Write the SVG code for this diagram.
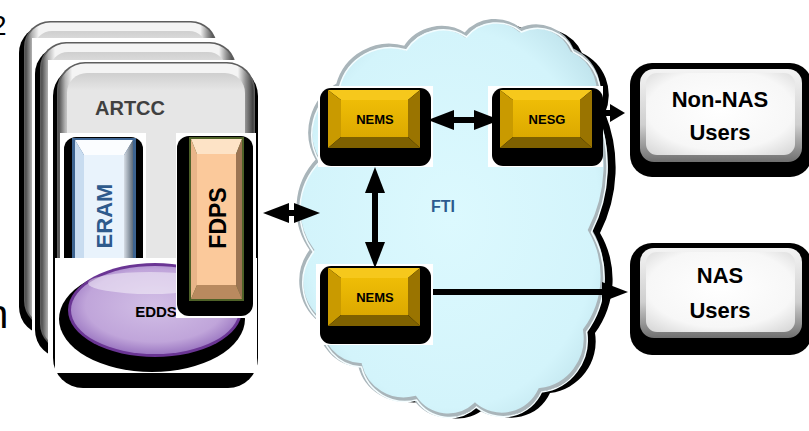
<svg xmlns="http://www.w3.org/2000/svg" width="809" height="431" viewBox="0 0 809 431">
<style>
.shd{fill:#000}
.rim{fill:#5e5e5e}
.bev{fill:url(#gCardH)}
.inner{fill:url(#gInner)}
.bbox{fill:#fff}
.lbl{font-family:"Liberation Sans",Arial,sans-serif;font-weight:bold}
.plain{font-family:"Liberation Sans",Arial,sans-serif;font-weight:normal;fill:#000}
.conn{stroke:#000;stroke-width:6;fill:none}
</style>
<defs>
<linearGradient id="gCardH" x1="0" x2="1" y1="0" y2="0">
<stop offset="0" stop-color="#4a4a4a"/>
<stop offset="0.035" stop-color="#b5b5b5"/>
<stop offset="0.07" stop-color="#f4f4f4"/>
<stop offset="0.92" stop-color="#f4f4f4"/>
<stop offset="0.96" stop-color="#8f8f8f"/>
<stop offset="1" stop-color="#3a3a3a"/>
</linearGradient>
<linearGradient id="gInner" x1="0" x2="0" y1="0" y2="1">
<stop offset="0" stop-color="#cfcfcf"/>
<stop offset="0.06" stop-color="#e6e6e6"/>
<stop offset="1" stop-color="#e6e6e6"/>
</linearGradient>
<linearGradient id="gEramR" x1="0" x2="1" y1="0" y2="0">
<stop offset="0" stop-color="#d6dde5"/>
<stop offset="1" stop-color="#5d6b7a"/>
</linearGradient>
<radialGradient id="gEdds" cx="0.5" cy="0.45" r="0.55">
<stop offset="0" stop-color="#d2bfe6"/>
<stop offset="0.75" stop-color="#c0a5da"/>
<stop offset="1" stop-color="#9c78c2"/>
</radialGradient>
<radialGradient id="gCloud" cx="0.5" cy="0.5" r="0.6">
<stop offset="0" stop-color="#dcf9fe"/>
<stop offset="0.8" stop-color="#d3f4fb"/>
<stop offset="1" stop-color="#bfe3ec"/>
</radialGradient>
<linearGradient id="gGoldFace" x1="0" x2="0" y1="0" y2="1">
<stop offset="0" stop-color="#efbd06"/>
<stop offset="1" stop-color="#dca900"/>
</linearGradient>
<linearGradient id="gUserBev" x1="0" x2="0" y1="0" y2="1">
<stop offset="0" stop-color="#f4f4f4"/>
<stop offset="0.6" stop-color="#cfcfcf"/>
<stop offset="1" stop-color="#6f6f6f"/>
</linearGradient>
<radialGradient id="gUserFace" cx="0.5" cy="0.45" r="0.7">
<stop offset="0" stop-color="#ffffff"/>
<stop offset="0.7" stop-color="#f7f7f7"/>
<stop offset="1" stop-color="#d9d9d9"/>
</radialGradient>
<marker id="ah" viewBox="0 0 26 20" refX="16" refY="10" markerWidth="26" markerHeight="20" markerUnits="userSpaceOnUse" orient="auto-start-reverse">
<path d="M0,0 L26,10 L0,20 z" fill="#000"/>
</marker>
<marker id="ahs" viewBox="0 0 15 18" refX="9" refY="9" markerWidth="15" markerHeight="18" markerUnits="userSpaceOnUse" orient="auto">
<path d="M0,0 L15,9 L0,18 z" fill="#000"/>
</marker>
<path id="cloudShape" d="M312,250 A70,70 0 0 1 318,160 A54,54 0 0 1 338,85 A53,53 0 0 1 405,48 A43,43 0 0 1 465,35 A39,39 0 0 1 520,30 A39,39 0 0 1 572,50 A46,46 0 0 1 595,110 A145,145 0 0 1 590,230 A91,91 0 0 1 585,330 A52,52 0 0 1 540,390 A42,42 0 0 1 475,405 A40,40 0 0 1 415,398 A45,45 0 0 1 360,365 A42,42 0 0 1 320,320 A50,50 0 0 1 312,250 Z"/>
<g id="goldBtn">
<rect class="shd" x="-8" y="-2" width="111" height="78" rx="11"/>
<polygon points="0,0 92,0 80,10 13,10" fill="#f6c81c"/>
<polygon points="0,0 13,10 13,47 0,58" fill="#c99a00"/>
<polygon points="92,0 92,58 80,47 80,10" fill="#9a7400"/>
<polygon points="0,58 13,47 80,47 92,58" fill="#7f6100"/>
<rect x="13" y="10" width="67" height="37" fill="url(#gGoldFace)"/>
</g>
</defs>

<g id="stray-text">
<text class="plain" x="-9" y="35" font-size="28">2</text>
<text class="plain" x="-14" y="328" font-size="40">n</text>
</g>

<g id="artcc">
<g id="card1">
<rect class="shd" x="19" y="25" width="198" height="310" rx="28"/>
<rect class="rim" x="24" y="21" width="193" height="306" rx="26"/>
<rect class="bev" x="25.5" y="22.5" width="190" height="303" rx="25"/>
<rect class="inner" x="34" y="31" width="173" height="286" rx="18"/>
</g>
<rect class="bbox" x="32" y="38" width="207" height="324"/>
<g id="card2">
<rect class="shd" x="35" y="46" width="201" height="312" rx="28"/>
<rect class="rim" x="40" y="42" width="196" height="308" rx="26"/>
<rect class="bev" x="41.5" y="43.5" width="193" height="305" rx="25"/>
<rect class="inner" x="50" y="52" width="176" height="288" rx="18"/>
</g>
<rect class="bbox" x="48" y="60" width="214" height="333"/>
<g id="card3">
<rect class="shd" x="53" y="66" width="205" height="322" rx="30"/>
<rect class="rim" x="57" y="62" width="198" height="311" rx="28"/>
<rect class="bev" x="58.5" y="63.5" width="195" height="308" rx="27"/>
<rect class="inner" x="67" y="73" width="178" height="292" rx="20"/>
<text class="lbl" x="95" y="115" font-size="20" fill="#404040">ARTCC</text>
</g>
</g>

<g id="eram">
<rect class="bbox" x="60" y="133" width="86" height="125"/>
<rect class="shd" x="64" y="137" width="79" height="150" rx="12"/>
<rect x="72" y="138" width="64" height="140" fill="#3d6491"/>
<polygon points="75,140 133,140 124,155 84,155" fill="#fbfdff"/>
<polygon points="75,140 84,155 84,270 75,278" fill="#c8dcf0"/>
<polygon points="133,140 133,278 124,270 124,155" fill="url(#gEramR)"/>
<rect x="84" y="155" width="40" height="115" fill="#e9f3fc"/>
<text class="lbl" transform="translate(104,216) rotate(-90)" text-anchor="middle" dy="8" font-size="22" fill="#2e5a8c">ERAM</text>
</g>

<g id="edds">
<rect class="bbox" x="55" y="258" width="202" height="115"/>
<ellipse class="shd" cx="152" cy="319" rx="93" ry="53"/>
<ellipse cx="155" cy="310" rx="87" ry="47" fill="#6a3594"/>
<ellipse cx="155" cy="310" rx="84" ry="44" fill="url(#gEdds)"/>
<ellipse cx="150" cy="283" rx="62" ry="11" fill="#fff" opacity="0.45"/>
<text class="lbl" x="156" y="317" text-anchor="middle" font-size="15" fill="#000">EDDS</text>
</g>

<g id="fdps">
<rect class="bbox" x="176" y="133" width="80" height="185"/>
<rect class="shd" x="177" y="136" width="76" height="180" rx="12"/>
<rect x="189" y="137" width="55" height="164" fill="#4f6228"/>
<polygon points="191,139 242,139 236,154 197,154" fill="#fde3c6"/>
<polygon points="191,139 197,154 197,285 191,299" fill="#e9b589"/>
<polygon points="242,139 242,299 236,285 236,154" fill="#9c7452"/>
<polygon points="191,299 197,285 236,285 242,299" fill="#b98a5f"/>
<rect x="197" y="154" width="39" height="131" fill="#fbc99b"/>
<text class="lbl" transform="translate(218,218) rotate(-90)" text-anchor="middle" dy="8" font-size="23" fill="#000">FDPS</text>
</g>

<g id="fti">
<use href="#cloudShape" class="shd" transform="translate(10,3)"/>
<use href="#cloudShape" fill="url(#gCloud)" stroke="#a9b5ba" stroke-width="4"/>
<use href="#cloudShape" fill="none" stroke="#f4fdff" stroke-width="1.5" transform="translate(1.5,2)"/>
<text class="lbl" x="443" y="212" text-anchor="middle" font-size="16" fill="#2c5a8f">FTI</text>
</g>

<g id="nems1">
<rect class="bbox" x="318" y="86" width="115" height="81"/>
<use href="#goldBtn" x="328" y="90"/>
<text class="lbl" x="375" y="124" text-anchor="middle" font-size="13" fill="#000">NEMS</text>
</g>

<g id="nesg">
<rect class="bbox" x="488" y="86" width="115" height="81"/>
<use href="#goldBtn" x="500" y="90"/>
<text class="lbl" x="547" y="124" text-anchor="middle" font-size="13" fill="#000">NESG</text>
</g>

<g id="nems2">
<rect class="bbox" x="316" y="264" width="117" height="81"/>
<use href="#goldBtn" x="328" y="268"/>
<text class="lbl" x="375" y="302" text-anchor="middle" font-size="13" fill="#000">NEMS</text>
</g>

<g id="non-nas-users">
<rect class="shd" x="630" y="63" width="182" height="114" rx="22"/>
<rect x="640" y="69" width="162" height="93" rx="14" fill="url(#gUserBev)"/>
<rect x="646" y="73" width="149" height="82" rx="11" fill="url(#gUserFace)"/>
<text class="lbl" x="720" y="107" text-anchor="middle" font-size="22" fill="#000">Non-NAS</text>
<text class="lbl" x="720" y="140" text-anchor="middle" font-size="22" fill="#000">Users</text>
</g>

<g id="nas-users">
<rect class="shd" x="630" y="243" width="182" height="112" rx="22"/>
<rect x="640" y="248" width="162" height="90" rx="14" fill="url(#gUserBev)"/>
<rect x="646" y="252" width="149" height="80" rx="11" fill="url(#gUserFace)"/>
<text class="lbl" x="720" y="283" text-anchor="middle" font-size="22" fill="#000">NAS</text>
<text class="lbl" x="720" y="318" text-anchor="middle" font-size="22" fill="#000">Users</text>
</g>

<g id="connectors">
<line class="conn" x1="273" y1="213" x2="310" y2="213" marker-start="url(#ah)" marker-end="url(#ah)"/>
<line class="conn" x1="438" y1="120" x2="490" y2="120" stroke-width="5" marker-start="url(#ah)" marker-end="url(#ah)"/>
<line class="conn" x1="375" y1="177" x2="375" y2="258" marker-start="url(#ah)" marker-end="url(#ah)"/>
<line class="conn" x1="433" y1="292" x2="618" y2="292" marker-end="url(#ah)"/>
<line class="conn" x1="603" y1="113" x2="619" y2="113" marker-end="url(#ahs)"/>
</g>
</svg>
